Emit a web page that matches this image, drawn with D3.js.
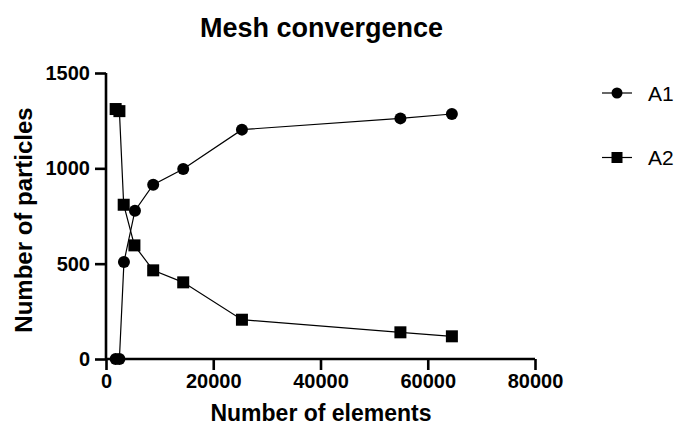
<!DOCTYPE html>
<html>
<head>
<meta charset="utf-8">
<script src="https://cdn.jsdelivr.net/npm/d3@7"></script>
<style>
  html, body { margin: 0; padding: 0; background: #fff; }
  svg { display: block; font-family: "Liberation Sans", Arial, sans-serif; }
</style>
</head>
<body>
<svg id="chart" width="678" height="432"></svg>
<script>
// Data
const elementsA1 = [1800, 2500, 3350, 5400, 8800, 14400, 25350, 54900, 64500];
const particlesA1 = [0, 0, 509, 778, 914, 996, 1203, 1262, 1285];
const elementsA2 = [1800, 2500, 3300, 5300, 8800, 14400, 25350, 54900, 64500];
const particlesA2 = [1311, 1300, 809, 596, 465, 402, 206, 140, 119];
const xTicks = [0, 20000, 40000, 60000, 80000];
const yTicks = [0, 500, 1000, 1500];
const seriesNames = ["A1", "A2"];

const svg = d3.select("#chart");
const x = d3.scaleLinear().domain([0, 80000]).range([106, 535]);
const y = d3.scaleLinear().domain([0, 1500]).range([359, 73]);

// Axes
const xAxis = svg.append("g").attr("transform", `translate(0,${y(0)})`)
  .call(d3.axisBottom(x).tickValues(xTicks).tickFormat(d3.format("d")).tickSize(11).tickPadding(4));
const yAxis = svg.append("g").attr("transform", `translate(${x(0)},0)`)
  .call(d3.axisLeft(y).tickValues(yTicks).tickFormat(d3.format("d")).tickSize(11).tickPadding(5));
[xAxis, yAxis].forEach(g => {
  g.select(".domain").attr("stroke", "#000").attr("stroke-width", 2.6);
  g.selectAll(".tick line").attr("stroke", "#000").attr("stroke-width", 2.6);
  g.selectAll(".tick text").attr("fill", "#000").attr("font-size", 20).attr("font-weight", "bold")
    .attr("font-family", "'Liberation Sans', Arial, sans-serif");
});
xAxis.select(".domain").attr("d", `M${x(0)},0H${x(80000)}`);
yAxis.select(".domain").attr("d", `M0,${y(1500)}V${y(0)}`);

// Lines and markers
const line = d3.line().x(d => x(d[0])).y(d => y(d[1]));
const a1 = elementsA1.map((e, i) => [e, particlesA1[i]]);
const a2 = elementsA2.map((e, i) => [e, particlesA2[i]]);

svg.append("path").datum(a1).attr("d", line).attr("fill", "none").attr("stroke", "#000").attr("stroke-width", 1.2);
svg.append("path").datum(a2).attr("d", line).attr("fill", "none").attr("stroke", "#000").attr("stroke-width", 1.2);

svg.append("g").selectAll("circle").data(a1).join("circle")
  .attr("cx", d => x(d[0])).attr("cy", d => y(d[1])).attr("r", 6).attr("fill", "#000");
svg.append("g").selectAll("rect").data(a2).join("rect")
  .attr("x", d => x(d[0]) - 6).attr("y", d => y(d[1]) - 6).attr("width", 12).attr("height", 12).attr("fill", "#000");

// Legend
const legY = [93, 157.5];
seriesNames.forEach((name, i) => {
  const g = svg.append("g");
  g.append("line").attr("x1", 602).attr("x2", 632).attr("y1", legY[i]).attr("y2", legY[i])
    .attr("stroke", "#000").attr("stroke-width", 1.2);
  if (i === 0) g.append("circle").attr("cx", 617).attr("cy", legY[i]).attr("r", 5.5).attr("fill", "#000");
  else g.append("rect").attr("x", 611.5).attr("y", legY[i] - 5.5).attr("width", 11).attr("height", 11).attr("fill", "#000");
  g.append("text").attr("x", 648).attr("y", legY[i] + 7.5).attr("font-size", 21).attr("fill", "#000").text(name);
});

// Titles
svg.append("text").attr("x", 321.5).attr("y", 36.5).attr("text-anchor", "middle")
  .attr("font-size", 27).attr("font-weight", "bold").text("Mesh convergence");
svg.append("text").attr("x", 321).attr("y", 421).attr("text-anchor", "middle")
  .attr("font-size", 23).attr("font-weight", "bold").text("Number of elements");
svg.append("text").attr("transform", "translate(32,220) rotate(-90)").attr("text-anchor", "middle")
  .attr("font-size", 24).attr("font-weight", "bold").text("Number of particles");
</script>
</body>
</html>
